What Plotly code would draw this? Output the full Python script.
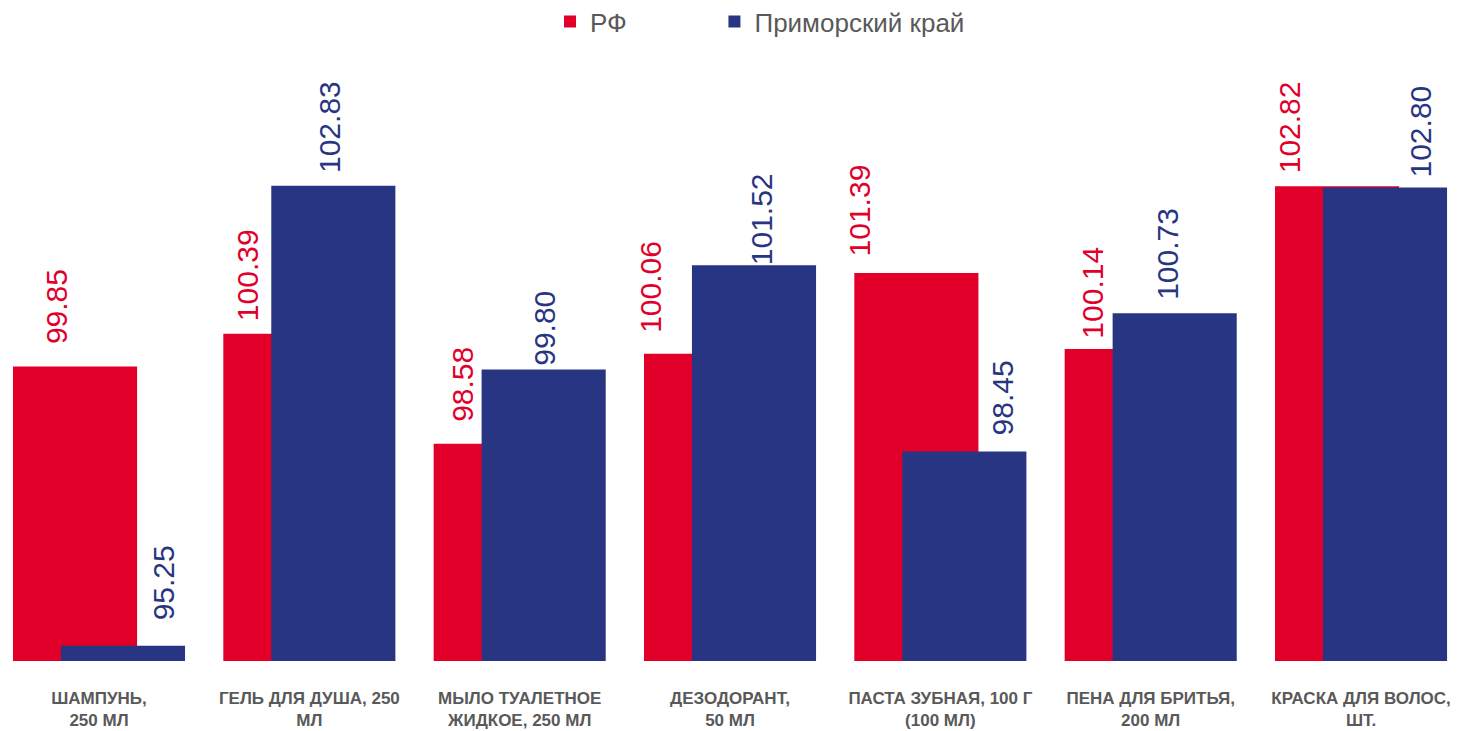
import plotly.graph_objects as go

categories = [
    "ШАМПУНЬ,<br>250 МЛ",
    "ГЕЛЬ ДЛЯ ДУША, 250<br>МЛ",
    "МЫЛО ТУАЛЕТНОЕ<br>ЖИДКОЕ, 250 МЛ",
    "ДЕЗОДОРАНТ,<br>50 МЛ",
    "ПАСТА ЗУБНАЯ, 100 Г<br>(100 МЛ)",
    "ПЕНА ДЛЯ БРИТЬЯ,<br>200 МЛ",
    "КРАСКА ДЛЯ ВОЛОС,<br>ШТ.",
]
rf_values = [99.85, 100.39, 98.58, 100.06, 101.39, 100.14, 102.82]
primorye_values = [95.25, 102.83, 99.80, 101.52, 98.45, 100.73, 102.80]
series_names = ["РФ", "Приморский край"]

# label placement tweaks (pixels) to mimic the hand-placed labels of the original
rf_label_dx = [-43, -62, -58, -79, -81, -58, -72]
rf_label_gap = [20, 11, 20, 19, 15, 8, 11]
pk_label_dx = [64, 20, 24, 31, 62, 16, 59]
pk_label_gap = [23, 11, 2, -2, 14, 11, 8]

RED = "#E2002B"
BLUE = "#283583"
GRAY = "#595959"
FONT = "Liberation Sans, Arial, sans-serif"

x = list(range(len(categories)))
bar_w = 0.59

fig = go.Figure()
fig.add_trace(go.Bar(
    x=x, y=rf_values, name=series_names[0], marker_color=RED,
    marker_line_width=0, width=bar_w, offset=-0.409, legend="legend",
))
fig.add_trace(go.Bar(
    x=x, y=primorye_values, name=series_names[1], marker_color=BLUE,
    marker_line_width=0, width=bar_w, offset=-0.181, legend="legend2",
))

annotations = []
for i in x:
    annotations.append(dict(
        x=i, y=rf_values[i], xref="x", yref="y", text=f"{rf_values[i]:.2f}",
        showarrow=False, textangle=-90, xanchor="center", yanchor="bottom",
        xshift=rf_label_dx[i], yshift=rf_label_gap[i],
        font=dict(family=FONT, size=30, color=RED),
    ))
    annotations.append(dict(
        x=i, y=primorye_values[i], xref="x", yref="y", text=f"{primorye_values[i]:.2f}",
        showarrow=False, textangle=-90, xanchor="center", yanchor="bottom",
        xshift=pk_label_dx[i], yshift=pk_label_gap[i],
        font=dict(family=FONT, size=30, color=BLUE),
    ))

legend_style = dict(
    orientation="h", yref="paper", y=1.103, yanchor="top",
    xanchor="left", font=dict(family=FONT, size=26, color=GRAY),
    bgcolor="rgba(0,0,0,0)",
)

fig.update_layout(
    width=1450, height=723,
    barmode="overlay",
    plot_bgcolor="white", paper_bgcolor="white",
    margin=dict(l=0, r=0, t=52, b=70, autoexpand=False),
    showlegend=True,
    legend=dict(legend_style, x=0.3738),
    legend2=dict(legend_style, x=0.4872),
    annotations=annotations,
    font=dict(family=FONT, color=GRAY),
)
fig.update_xaxes(
    range=[-0.4327, 6.461], tickvals=x, ticktext=categories,
    showgrid=False, zeroline=False, showline=False, ticks="",
    tickfont=dict(family=FONT, size=17, color=GRAY, weight="bold"),
    ticklabelstandoff=25, automargin=False,
)
fig.update_yaxes(
    range=[95, 104.9], showgrid=False, zeroline=False, showline=False,
    showticklabels=False, ticks="", automargin=False,
)

fig.write_html("out.html")
